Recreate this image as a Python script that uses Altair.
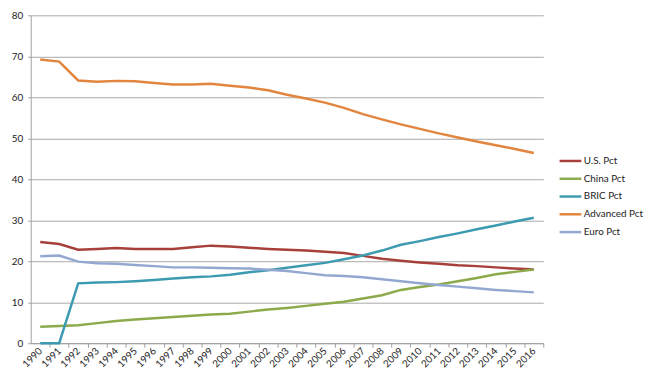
import altair as alt
import pandas as pd

years = [str(y) for y in range(1990, 2017)]
series = ["U.S. Pct", "China Pct", "BRIC Pct", "Advanced Pct", "Euro Pct"]
colors = ["#A7403B", "#8CAA4B", "#3C9AB1", "#E2853E", "#93A8D1"]

us = [24.7, 24.2, 22.8, 23.0, 23.2, 23.0, 23.0, 23.0, 23.4, 23.8, 23.6, 23.3, 23.0, 22.8, 22.6, 22.3,
      22.0, 21.3, 20.6, 20.1, 19.7, 19.4, 19.0, 18.8, 18.5, 18.2, 18.0]
china = [4.0, 4.2, 4.4, 4.9, 5.4, 5.8, 6.1, 6.4, 6.7, 7.0, 7.2, 7.7, 8.2, 8.6, 9.1, 9.6,
         10.1, 10.9, 11.7, 13.0, 13.7, 14.3, 15.1, 15.9, 16.8, 17.4, 18.0]
bric = [0.0, 0.0, 14.6, 14.8, 14.9, 15.1, 15.4, 15.8, 16.1, 16.3, 16.7, 17.3, 17.8, 18.4, 19.0, 19.6,
        20.5, 21.4, 22.6, 24.0, 24.9, 25.9, 26.8, 27.8, 28.7, 29.7, 30.6]
advanced = [69.2, 68.7, 64.1, 63.8, 64.0, 63.9, 63.5, 63.1, 63.1, 63.3, 62.8, 62.4, 61.7, 60.6, 59.7, 58.7,
            57.4, 55.9, 54.6, 53.4, 52.3, 51.2, 50.2, 49.2, 48.3, 47.4, 46.4]
euro = [21.2, 21.4, 19.9, 19.5, 19.4, 19.1, 18.8, 18.5, 18.5, 18.4, 18.3, 18.2, 17.9, 17.6, 17.1, 16.6,
        16.4, 16.1, 15.6, 15.1, 14.6, 14.2, 13.8, 13.4, 13.0, 12.7, 12.4]

values = [us, china, bric, advanced, euro]
rows = []
for s, vals in zip(series, values):
    for y, v in zip(years, vals):
        rows.append({"Year": y, "Series": s, "Value": v})
df = pd.DataFrame(rows)

W, H = 519, 332
TOP, LEFT = 5, 23
step = W / len(years)
FONT = "Lato"

chart = alt.Chart(df).mark_line(strokeWidth=2.5).encode(
    x=alt.X("Year:O", sort=years, title=None,
            scale=alt.Scale(type="point", padding=0.5),
            axis=alt.Axis(labelAngle=-45, labelAlign="right", labelBaseline="middle",
                          tickOffset=step / 2, labelOffset=-step / 2,
                          tickSize=4, tickColor="#A0A0A0", domainColor="#A0A0A0",
                          labelFont=FONT, labelFontSize=10, labelColor="#222222",
                          labelPadding=2, grid=False)),
    y=alt.Y("Value:Q", title=None,
            scale=alt.Scale(domain=[0, 80], nice=False),
            axis=alt.Axis(values=list(range(0, 81, 10)), tickSize=3, tickColor="#A0A0A0",
                          domainColor="#A0A0A0", gridColor="#A8A8A8", gridWidth=1,
                          labelFont=FONT, labelFontSize=10, labelColor="#222222",
                          labelPadding=5)),
    color=alt.Color("Series:N", sort=series,
                    scale=alt.Scale(domain=series, range=colors),
                    legend=alt.Legend(title=None, orient="none", legendX=534, legendY=135,
                                      symbolType="stroke", symbolSize=484, symbolStrokeWidth=2.5,
                                      labelFont=FONT, labelFontSize=10, labelColor="#222222",
                                      rowPadding=0, labelOffset=1, labelLimit=200)),
    order=alt.Order("Series:N"),
).properties(
    width=W, height=H,
    autosize=alt.AutoSizeParams(type="none"),
    padding={"left": LEFT, "top": TOP, "right": 653 - 8 - LEFT - W, "bottom": 390 - 8 - TOP - H},
).configure_view(stroke=None)

chart.save("out.html", embed_options={"renderer": "svg", "actions": False})
